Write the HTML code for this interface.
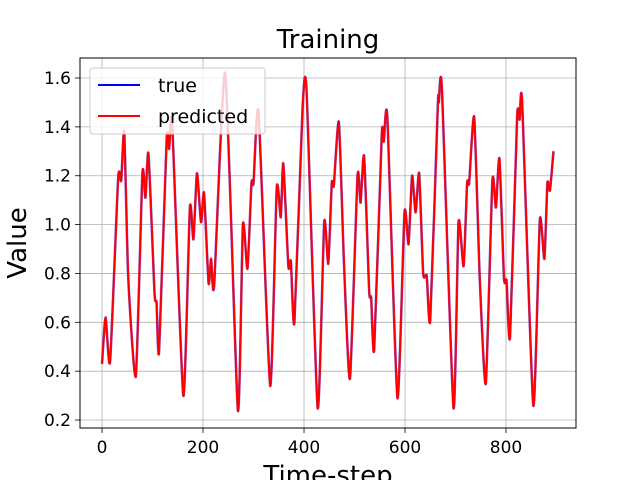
<!DOCTYPE html>
<html><head><meta charset="utf-8"><style>
body{margin:0;background:#fff;font-family:"Liberation Sans","DejaVu Sans",sans-serif}
svg text{font-family:"DejaVu Sans","Liberation Sans",sans-serif}
</style></head><body>
<svg id="chart" width="640" height="480">
<rect width="640" height="480" fill="#fff"/>
<g id="grid"></g><g id="series"></g><g id="axes"></g>
<text x="328" y="48" font-size="26" text-anchor="middle">Training</text>
<text x="328" y="484" font-size="26" text-anchor="middle">Time-step</text>
<text transform="translate(26,243) rotate(-90)" font-size="26" text-anchor="middle">Value</text>
<g>
<rect x="90" y="68" width="175" height="66" rx="3" fill="#fff" fill-opacity="0.8" stroke="#ccc"/>
<line x1="98" y1="85" x2="140" y2="85" stroke="#0000ff" stroke-width="2"/>
<text x="158" y="92" font-size="19">true</text>
<line x1="98" y1="116" x2="140" y2="116" stroke="#ff0000" stroke-width="2"/>
<text x="158" y="123" font-size="19">predicted</text>
</g>
</svg>
<script>
const timeSteps=[0,7,16,32,38,44,52,67,80,86,92,104,108,113,128,133,139,161,174,181,188,196,202,211,216,222,244,269,279,288,296,300,310,333,346,354,359,369,374,381,397,405,427,440,448,455,459,469,479,491,506,512,519,529,533,539,554,558,565,585,599,607,614,621,628,636,643,650,665,667,673,696,706,716,723,727,737,748,760,773,780,787,796,801,808,822,827,832,854,867,876,882,887,894];
const trueValues=[0.43,0.62,0.44,1.19,1.18,1.38,0.78,0.38,1.21,1.11,1.29,0.72,0.68,0.48,1.35,1.31,1.41,0.30,1.07,0.94,1.21,1.01,1.13,0.76,0.86,0.75,1.62,0.24,1.0,0.82,1.17,1.17,1.46,0.34,1.15,1.03,1.25,0.83,0.85,0.60,1.47,1.55,0.25,1.01,0.84,1.17,1.16,1.42,0.85,0.37,1.20,1.09,1.28,0.73,0.70,0.49,1.37,1.34,1.44,0.29,1.05,0.92,1.20,1.05,1.21,0.80,0.79,0.61,1.49,1.50,1.56,0.25,1.01,0.83,1.17,1.17,1.44,0.78,0.35,1.18,1.07,1.27,0.78,0.77,0.54,1.44,1.43,1.50,0.26,1.02,0.86,1.17,1.14,1.30];
const predictedValues=trueValues.slice();
const xTicks=[0,200,400,600,800];
const yTicks=[0.2,0.4,0.6,0.8,1.0,1.2,1.4,1.6];
const L=80,R=576,T=58,B=428,xMin=-43.6,xMax=938.6,yMin=0.1674,yMax=1.6819;
const xs=t=>L+(t-xMin)/(xMax-xMin)*(R-L);
const ys=v=>B-(v-yMin)/(yMax-yMin)*(B-T);
const NS='http://www.w3.org/2000/svg';
function mk(tag,attrs,parent){const e=document.createElementNS(NS,tag);for(const k in attrs)e.setAttribute(k,attrs[k]);parent.appendChild(e);return e;}
const grid=document.getElementById('grid'),axes=document.getElementById('axes'),ser=document.getElementById('series');
xTicks.forEach(t=>{
 const g=mk('line',{x1:xs(t),x2:xs(t),y1:T,y2:B,stroke:'#b0b0b0','stroke-width':0.8},grid);
 
 
 mk('line',{x1:xs(t),x2:xs(t),y1:B,y2:B+5,stroke:'#000','stroke-width':0.8},axes);
 const tx=mk('text',{x:xs(t),y:B+25,'font-size':17,'text-anchor':'middle'},axes);tx.textContent=t;
 
 
});
yTicks.forEach(v=>{
 const g=mk('line',{x1:L,x2:R,y1:ys(v),y2:ys(v),stroke:'#b0b0b0','stroke-width':0.8},grid);
 
 
 mk('line',{x1:L-5,x2:L,y1:ys(v),y2:ys(v),stroke:'#000','stroke-width':0.8},axes);
 const tx=mk('text',{x:L-9,y:ys(v)+6,'font-size':17,'text-anchor':'end'},axes);tx.textContent=v.toFixed(1);
 
 
});
const frame=mk('rect',{x:L,y:T,width:R-L,height:B-T,fill:'none',stroke:'#000','stroke-width':1},axes);


function pathFor(vals){
 const p=timeSteps.map((t,i)=>[xs(t),ys(vals[i])]);
 let d='M'+p[0][0]+','+p[0][1];
 const k=10;
 for(let i=0;i<p.length-1;i++){
  const p0=p[Math.max(0,i-1)],p1=p[i],p2=p[i+1],p3=p[Math.min(p.length-1,i+2)];
  const c1=[p1[0]+(p2[0]-p0[0])/k,p1[1]+(p2[1]-p0[1])/k],c2=[p2[0]-(p3[0]-p1[0])/k,p2[1]-(p3[1]-p1[1])/k];
  d+=' C'+c1+' '+c2+' '+p2;
 }
 return d;
}
const tl=mk('path',{d:pathFor(trueValues),fill:'none',stroke:'#0000ff','stroke-width':2.6,'stroke-opacity':0.6},ser);


const pl=mk('path',{d:pathFor(predictedValues),fill:'none',stroke:'#ff0000','stroke-width':2},ser);


</script>
</body></html>
